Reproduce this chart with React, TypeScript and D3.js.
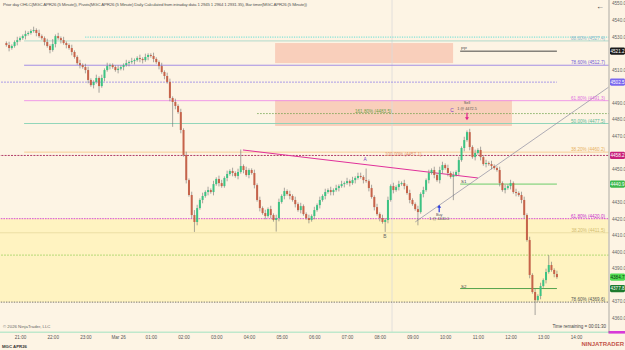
'use client'

/**
 * NinjaTrader-style 5 minute candlestick chart of MGC APR26
 * with fib levels, pivots, zones and trade markers.
 */
import React, { useEffect, useRef } from 'react'
import * as d3 from 'd3'

// 5 minute closes, 20:35 -> 13:25
const closes = [
  4524.9, 4523.1, 4524.3, 4526.7, 4527.9, 4529.1, 4530.3, 4531.6, 4532.2, 4533.4,
  4534.0, 4532.2, 4530.3, 4529.1, 4526.7, 4524.3, 4521.9, 4525.5, 4530.3, 4529.1,
  4527.9, 4526.1, 4524.9, 4523.1, 4520.7, 4517.7, 4514.0, 4512.8, 4511.6, 4509.8,
  4503.8, 4500.7, 4502.6, 4505.0, 4500.1, 4505.0, 4509.8, 4512.2, 4512.8, 4511.6,
  4509.8, 4510.6, 4511.6, 4512.8, 4514.0, 4514.6, 4515.2, 4515.8, 4517.1, 4516.5,
  4515.8, 4517.7, 4518.9, 4518.3, 4516.5, 4514.6, 4512.2, 4508.6, 4506.2, 4502.6,
  4492.9, 4490.5, 4488.1, 4484.4, 4473.6, 4458.5, 4443.3, 4434.3, 4422.2, 4418.0,
  4426.4, 4431.3, 4433.7, 4436.1, 4437.3, 4436.1, 4440.9, 4444.0, 4441.5, 4439.7,
  4444.6, 4447.0, 4448.8, 4447.6, 4445.8, 4448.2, 4451.8, 4449.4, 4446.4, 4449.4,
  4447.6, 4440.3, 4431.3, 4426.4, 4423.4, 4421.6, 4425.8, 4422.2, 4419.2, 4420.4,
  4430.1, 4433.7, 4436.7, 4434.9, 4433.7, 4431.3, 4428.8, 4425.2, 4427.6, 4422.8,
  4420.4, 4419.2, 4421.6, 4425.2, 4428.2, 4431.3, 4433.7, 4436.1, 4437.3, 4436.1,
  4437.3, 4438.5, 4439.7, 4440.9, 4441.5, 4442.7, 4441.5, 4443.3, 4444.6, 4445.8,
  4445.2, 4443.3, 4442.7, 4438.5, 4433.1, 4427.0, 4422.8, 4420.4, 4418.0, 4419.2,
  4431.3, 4439.7, 4437.3, 4439.1, 4440.9, 4441.5, 4439.7, 4435.5, 4431.3, 4428.8,
  4425.8, 4424.0, 4434.9, 4437.3, 4443.3, 4447.6, 4449.4, 4446.4, 4443.3, 4449.4,
  4452.4, 4450.6, 4447.6, 4445.2, 4446.4, 4448.2, 4455.4, 4462.7, 4467.5, 4472.3,
  4463.3, 4457.2, 4459.7, 4461.5, 4457.2, 4453.0, 4453.6, 4453.0, 4451.8, 4450.6,
  4449.4, 4441.5, 4437.3, 4438.5, 4439.7, 4441.5, 4436.1, 4435.5, 4434.3, 4431.3,
  4422.2, 4407.1, 4386.0, 4375.7, 4370.8, 4373.3, 4379.3, 4382.9, 4387.8, 4392.0,
  4389.0, 4386.6, 4384.7,
]
const firstOpen = 4526.1
// wick length above / below the body, in points (base 36 digits)
const wickUp = ('1211211211 2121121312 1211211212 2112121211 1211212112 1211211212 ' +
  '2121212123 2121212122 121212a121 1212121212 2121212121 1212121212 1212121212 ' +
  '2171212121 2121212121 1212121212 2121212121 2121212121 1212121212 2121212126 212').replace(/ /g, '')
const wickDn = ('1211211211 1211212121 2121211212 2121412121 1212121212 2121212121 ' +
  '2f21212126 2121212121 1212121212 1212121217 2121212121 1212121212 2121212121 ' +
  '1212121216 2121212121 1812121212 2121e12121 2121212121 1212121212 2121912121 121').replace(/ /g, '')

const priceTicks = [4550, 4540, 4530, 4520, 4510, 4500, 4490, 4480, 4470, 4460, 4450,
  4440, 4430, 4420, 4410, 4400, 4390, 4380, 4370, 4360]

// upper retracement (from the evening high)
const fibValues = [4527.4, 4512.7, 4491.3, 4477.5, 4460.2]
const fibLabels = ['88.60% (4527.4)', '78.60% (4512.7)', '61.80% (4491.3)', '50.00% (4477.5)', '38.20% (4460.2)']
const fibColors = ['#a8d6c8', '#9b84e4', '#ee90e8', '#86d2b4', '#f6c88c']
const fibTextColors = ['#8cb8cc', '#6f5ad8', '#e070e0', '#5cb898', '#e8b060']

// lower retracement
const lowFibValues = [4420.0, 4411.5, 4369.6]
const lowFibLabels = ['61.80% (4420.0)', '38.20% (4411.5)', '78.60% (4369.6)']

// extension of the afternoon swing
const extValues = [4483.5, 4457.1]
const extLabels = ['161.80% (4483.5)', '100.00% (4457.1)']

const pivotNames = ['PP', 'S1', 'S2']
const pivotValues = [4521.2, 4440.9, 4377.8]

const priorHigh = 4529.7
const markedValues = [4502.5, 4458.2]
const greenDashed = 4398.0
const lastPrice = 4384.7

// zones: [startBar, endBar, top, bottom]
const zones = [
  [98.6, 163.9, 4526.1, 4514.0],
  [98.6, 185.5, 4491.7, 4476.0],
]

// trendlines: [bar1, price1, bar2, price2]
const trendPink = [86.8, 4461.5, 173.0, 4444.6]
const trendGray = [150.0, 4418.0, 221.0, 4499.5]

const letterNames = ['A', 'B', 'C']
const letterBars = [131.6, 138.9, 163.5]
const letterPrices = [4456.0, 4409.5, 4485.6]

const buyBar = 158.8
const buyPrice = 4428.4
const sellBar = 169
const sellPrice = 4479.5

const title = 'Prior day OHLC(MGC APR26 (5 Minute)), Pivots(MGC APR26 (5 Minute) Daily Calculated from intraday data 1 2945 1 2964 1 2931.35), Bar timer(MGC APR26 (5 Minute))'

const W = 625
const H = 350
const FONT = '"Liberation Sans", Arial, sans-serif'

export default function App() {
  const svgRef = useRef<SVGSVGElement>(null)

  useEffect(() => {
    if (!svgRef.current) return
    document.body.style.margin = '0'
    const svg = d3.select(svgRef.current)
    svg.selectAll('*').remove()

    const plotR = 608.5
    const plotB = 333

    const t0 = new Date(2026, 2, 25, 20, 35).getTime()
    const barTime = (i: number) => new Date(t0 + i * 5 * 60000)
    const x = d3
      .scaleTime()
      .domain([new Date(2026, 2, 25, 21, 0), new Date(2026, 2, 26, 14, 0)])
      .range([20, 576])
    const bx = (i: number) => x(barTime(i))
    const y = d3.scaleLinear().domain([4360, 4550]).range([318, 3.5])

    const bars = closes.map((c, i) => {
      const o = i === 0 ? firstOpen : closes[i - 1]
      return {
        i,
        o,
        c,
        h: Math.max(o, c) + parseInt(wickUp[i], 36),
        l: Math.min(o, c) - parseInt(wickDn[i], 36),
      }
    })

    svg.append('rect').attr('width', W).attr('height', H).attr('fill', '#fdf4e4')

    svg.append('defs').append('clipPath').attr('id', 'plot')
      .append('rect').attr('x', 0).attr('y', 0).attr('width', plotR).attr('height', plotB)

    const g = svg.append('g').attr('clip-path', 'url(#plot)')

    // lower yellow band
    g.append('rect')
      .attr('x', 0).attr('width', plotR)
      .attr('y', y(lowFibValues[0]))
      .attr('height', y(lowFibValues[2]) - y(lowFibValues[0]))
      .attr('fill', '#fff3bc').attr('opacity', 0.9)

    // zones
    g.selectAll('.zone').data(zones).join('rect')
      .attr('x', (d) => bx(d[0]))
      .attr('width', (d) => bx(d[1]) - bx(d[0]))
      .attr('y', (d) => y(d[2]))
      .attr('height', (d) => y(d[3]) - y(d[2]))
      .attr('fill', '#f8c6b0').attr('opacity', 0.8)

    // session separator
    g.append('line').attr('x1', bx(141.5)).attr('x2', bx(141.5)).attr('y1', 0).attr('y2', plotB)
      .attr('stroke', '#dcdcdc').attr('stroke-width', 0.8)

    const hline = (v: number, a: number, b: number, color: string, w: number, dash?: string) =>
      g.append('line')
        .attr('x1', bx(a)).attr('x2', bx(b))
        .attr('y1', y(v)).attr('y2', y(v))
        .attr('stroke', color).attr('stroke-width', w)
        .attr('stroke-dasharray', dash || null)

    // prior day high
    hline(priorHigh, 28.9, 222, '#3fd8d0', 0.8, '1.2,1.2')
    // upper fibs
    fibValues.forEach((v, k) => hline(v, 6.5, 222, fibColors[k], 0.9))
    // marked levels
    hline(markedValues[0], -3, 202, '#7b6be8', 0.8, '1.6,1.4')
    hline(markedValues[1], -3, 222, '#a8285a', 0.9, '2,1.2')
    // extension levels
    hline(extValues[0], 92, 222, '#5c9a3a', 0.7, '1.6,1.4')
    // lower fibs and levels
    hline(lowFibValues[0], -3, 222, '#d43cd4', 0.9, '1.6,1')
    hline(lowFibValues[1], -3, 222, '#eadca0', 0.9)
    hline(greenDashed, -3, 222, '#8ccc4c', 0.8, '1.6,1.4')
    hline(lowFibValues[2], -3, 222, '#555555', 0.8, '1.4,1.2')
    // pivots
    hline(pivotValues[0], 166.5, 202, '#333333', 0.9)
    hline(pivotValues[1], 166.5, 202, '#5ac85a', 0.9)
    hline(pivotValues[2], 166.5, 202, '#3f9a3f', 0.9)

    // trendlines
    g.append('line')
      .attr('x1', bx(trendPink[0])).attr('y1', y(trendPink[1]))
      .attr('x2', bx(trendPink[2])).attr('y2', y(trendPink[3]))
      .attr('stroke', '#e0309a').attr('stroke-width', 1)
    g.append('line')
      .attr('x1', bx(trendGray[0])).attr('y1', y(trendGray[1]))
      .attr('x2', bx(trendGray[2])).attr('y2', y(trendGray[3]))
      .attr('stroke', '#8c8ca0').attr('stroke-width', 0.7)

    // candles
    const cg = g.append('g')
    cg.selectAll('.wick').data(bars).join('line')
      .attr('x1', (d) => bx(d.i)).attr('x2', (d) => bx(d.i))
      .attr('y1', (d) => y(d.h)).attr('y2', (d) => y(d.l))
      .attr('stroke', '#6e6e6e').attr('stroke-width', 0.6)
    cg.selectAll('.body').data(bars).join('rect')
      .attr('x', (d) => bx(d.i) - 1)
      .attr('width', 2)
      .attr('y', (d) => y(Math.max(d.o, d.c)))
      .attr('height', (d) => Math.max(0.6, Math.abs(y(d.o) - y(d.c))))
      .attr('fill', (d) => (d.c >= d.o ? '#3cc383' : '#c6634a'))

    // text helpers
    const txt = (s: string, tx: number, ty: number, size: number, color: string, anchor = 'start') =>
      svg.append('text')
        .attr('x', tx).attr('y', ty)
        .attr('font-family', FONT).attr('font-size', size)
        .attr('fill', color).attr('text-anchor', anchor)
        .text(s)

    fibValues.forEach((v, k) => txt(fibLabels[k], 605, y(v) - 0.8, 4.6, fibTextColors[k], 'end'))
    txt(lowFibLabels[0], 605, y(lowFibValues[0]) - 0.8, 4.6, '#c830c8', 'end')
    txt(lowFibLabels[1], 605, y(lowFibValues[1]) - 0.8, 4.6, '#d2bc70', 'end')
    txt(lowFibLabels[2], 605, y(lowFibValues[2]) - 0.8, 4.6, '#555555', 'end')
    txt(extLabels[0], 355, y(extValues[0]) - 0.8, 4.6, '#6aa048')
    txt(extLabels[1], 385, y(extValues[1]) - 0.8, 4.6, '#e0906a')
    pivotNames.forEach((n, k) => txt(n, bx(166.8), y(pivotValues[k]) - 0.8, 4.4, '#444'))

    letterNames.forEach((n, k) =>
      txt(n, bx(letterBars[k]), y(letterPrices[k]) + 1.6, 4.8, n === 'B' ? '#666' : '#7a3cc8', 'middle'))

    // buy marker
    const bxp = bx(buyBar)
    const byp = y(buyPrice)
    svg.append('path')
      .attr('d', `M${bxp},${byp} L${bxp + 2},${byp + 3} L${bxp + 0.6},${byp + 3} L${bxp + 0.6},${byp + 7.5} L${bxp - 0.6},${byp + 7.5} L${bxp - 0.6},${byp + 3} L${bxp - 2},${byp + 3} Z`)
      .attr('fill', '#2a3ce0')
    txt('Buy', bxp, byp + 11, 3.8, '#555', 'middle')
    txt('1 @ 4440.0', bxp, byp + 15.5, 3.8, '#555', 'middle')

    // sell marker
    const sxp = bx(sellBar)
    const syp = y(sellPrice)
    svg.append('path')
      .attr('d', `M${sxp},${syp} L${sxp + 2},${syp - 3} L${sxp + 0.6},${syp - 3} L${sxp + 0.6},${syp - 7.5} L${sxp - 0.6},${syp - 7.5} L${sxp - 0.6},${syp - 3} L${sxp - 2},${syp - 3} Z`)
      .attr('fill', '#e0208c')
    txt('Sell', sxp, syp - 16, 3.8, '#555', 'middle')
    txt('1 @ 4472.5', sxp, syp - 10.5, 3.8, '#555', 'middle')

    // bottom timer strip
    svg.append('line').attr('x1', 0).attr('x2', plotR).attr('y1', 332.2).attr('y2', 332.2)
      .attr('stroke', '#bfe8cc').attr('stroke-width', 1.4)
    svg.append('rect').attr('x', 608.5).attr('y', 331).attr('width', 16.5).attr('height', 2.6)
      .attr('fill', '#d83ad8')

    // right axis
    svg.append('line').attr('x1', 609).attr('x2', 609).attr('y1', 0).attr('y2', plotB)
      .attr('stroke', '#8a8a8a').attr('stroke-width', 0.7)

    const badgeValues = [pivotValues[0], markedValues[0], markedValues[1], pivotValues[1], lastPrice, pivotValues[2]]
    const badgeColors = ['#1a1a1a', '#7b68ee', '#c8207a', '#3cb84c', '#52dc52', '#1e7a2e']

    const axis = svg.append('g')
      .attr('transform', 'translate(609,0)')
      .call(
        d3.axisRight(y)
          .tickValues(priceTicks.filter((v) => badgeValues.every((b) => Math.abs(y(b) - y(v)) > 6)))
          .tickSize(0)
          .tickPadding(3)
          .tickFormat(d3.format('.1f') as any),
      )
    axis.select('.domain').remove()
    axis.selectAll('text').attr('font-family', FONT).attr('font-size', 4.6).attr('fill', '#666')

    badgeValues.forEach((v, k) => {
      svg.append('rect')
        .attr('x', 610).attr('y', y(v) - 3.6).attr('width', 15).attr('height', 7.2)
        .attr('rx', 1.4).attr('fill', badgeColors[k])
      txt(v.toFixed(1), 617.5, y(v) + 1.6, 4.6, k === 4 ? '#0a3a0a' : '#ffffff', 'middle')
    })

    // time axis
    const xAxis = svg.append('g')
      .attr('transform', `translate(0,${plotB})`)
      .call(
        d3.axisBottom(x)
          .ticks(d3.timeHour.every(1))
          .tickSize(0)
          .tickPadding(3)
          .tickFormat((d: any) => (d.getHours() === 0 ? 'Mar 26' : d3.timeFormat('%H:%M')(d)) as any),
      )
    xAxis.select('.domain').remove()
    xAxis.selectAll('text').attr('font-family', FONT).attr('font-size', 4.6).attr('fill', '#555')

    // captions
    txt(title, 3, 6, 4.4, '#555').attr('textLength', 304)
    txt('\u2190', 600, 9, 8, '#333', 'middle')
    txt('\u00a9 2026 NinjaTrader, LLC', 3, 328, 4.3, '#666')
    txt('Time remaining = 00:01:30', 606, 328, 4.5, '#444', 'end')
    txt('MGC APR26', 2, 347.5, 4.3, '#333').attr('font-weight', 'bold')
    txt('NINJATRADER', 624, 346, 6, '#c4544a', 'end').attr('font-weight', 'bold')
  }, [])

  return (
    <div className="ninja-chart">
      <svg ref={svgRef} width={W} height={H} style={{ display: 'block' }}></svg>
    </div>
  )
}
